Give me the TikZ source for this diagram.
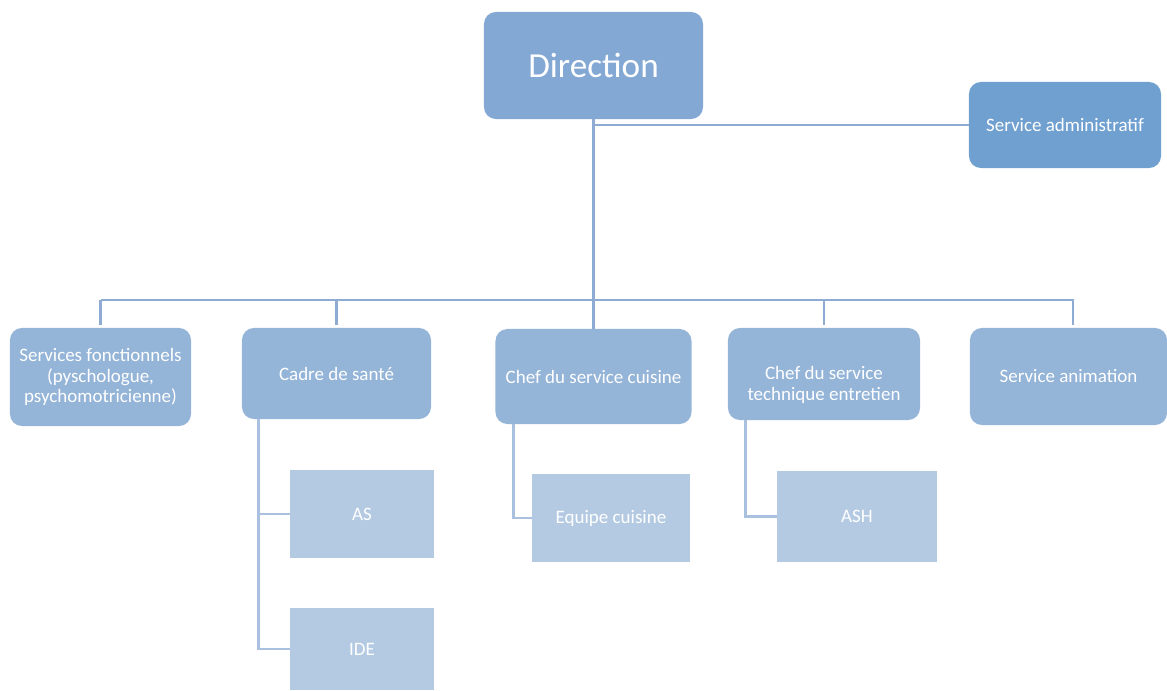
\documentclass[tikz,border=0pt]{standalone}
\usepackage{fontspec}
\setmainfont{Carlito}
\begin{document}
\begin{tikzpicture}[x=0.025cm, y=-0.025cm]
    \definecolor{headColour}{HTML}{83A8D4}
    \definecolor{adminColour}{HTML}{6FA0D0}
    \definecolor{unitColour}{HTML}{94B4D8}
    \definecolor{teamColour}{HTML}{B4CAE2}
    \definecolor{lineColour}{HTML}{8EABD3}
    \definecolor{subLineColour}{HTML}{A9C0DE}

    \tikzset{
        unitbox/.style={fill=unitColour, draw=none, rounded corners=0.3cm, text=white,
            align=center, font=\fontsize{13.5}{14.5}\selectfont, inner sep=2pt},
        teambox/.style={fill=teamColour, draw=none, text=white,
            align=center, font=\fontsize{13.5}{14.5}\selectfont},
        link/.style={draw=lineColour, line width=2.1pt},
        sublink/.style={draw=subLineColour, line width=2.1pt}
    }

    \useasboundingbox (0,0) rectangle (1167,691);

    % Top of the chart
    \node[unitbox, fill=headColour, font=\fontsize{25}{30}\selectfont,
        minimum width=5.475cm, minimum height=2.675cm] (direction) at (593.5,65.5) {Direction};
    \node[unitbox, fill=adminColour, minimum width=4.8cm, minimum height=2.15cm] (admin) at (1065,125) {Service administratif};

    % Services
    \node[unitbox, minimum width=4.525cm, minimum height=2.45cm] (fonct) at (100.5,377) {Services fonctionnels\\(pyschologue,\\psychomotricienne)};
    \node[unitbox, minimum width=4.725cm, minimum height=2.275cm] (cadre) at (336.5,373.5) {Cadre de santé};
    \node[unitbox, minimum width=4.9cm, minimum height=2.375cm] (cuisine) at (593.5,376.5) {Chef du service cuisine};
    \node[unitbox, minimum width=4.8cm, minimum height=2.3cm] (tech) at (824,374) {\strut\\Chef du service\\technique entretien};
    \node[unitbox, minimum width=4.925cm, minimum height=2.425cm] (anim) at (1068.5,376.5) {Service animation};

    % Teams
    \node[teambox, minimum width=3.6cm, minimum height=2.2cm] (as) at (362,514) {AS};
    \node[teambox, minimum width=3.6cm, minimum height=2.05cm] (ide) at (362,649) {IDE};
    \node[teambox, minimum width=3.95cm, minimum height=2.2cm] (equipe) at (611,518) {Equipe cuisine};
    \node[teambox, minimum width=4cm, minimum height=2.275cm] (ash) at (857,516.5) {ASH};

    % Links from the direction
    \coordinate (bus) at (593.5,300);
    \coordinate (animTop) at ([xshift=0.1125cm]anim.north);
    \draw[link] (direction.south) -- (bus) -- (cuisine.north);
    \draw[link] (direction.south |- admin.west) -- (admin.west);
    \draw[link] (fonct.north |- bus) -- (animTop |- bus) -- ([yshift=2pt]animTop);
    \foreach \n in {fonct,cadre,tech}
        \draw[link] (\n.north |- bus) -- ([yshift=2pt]\n.north);

    % Links to the teams
    \coordinate (cadreLeg) at ([xshift=0.425cm]cadre.south west);
    \coordinate (cuisineLeg) at ([xshift=0.45cm]cuisine.south west);
    \coordinate (techLeg) at ([xshift=0.45cm]tech.south west);
    \draw[sublink] (cadreLeg) -- (cadreLeg |- ide.west) -- (ide.west);
    \draw[sublink] (cadreLeg |- as.west) -- (as.west);
    \draw[sublink] (cuisineLeg) -- (cuisineLeg |- equipe.west) -- (equipe.west);
    \draw[sublink] (techLeg) -- (techLeg |- ash.west) -- (ash.west);

\end{tikzpicture}
\end{document}
